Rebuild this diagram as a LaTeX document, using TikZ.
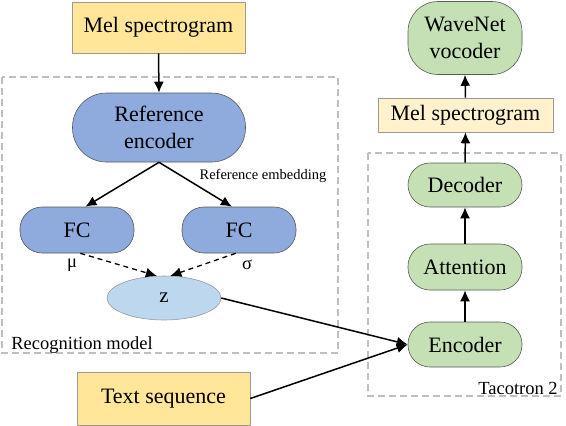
\documentclass[tikz,border=0pt]{standalone}
\usepackage{fontspec}
\setmainfont{LiberationSerif}[Extension=.ttf, UprightFont=*-Regular, BoldFont=*-Bold]
\usepackage{xcolor}
\usepackage{tikz}
\usetikzlibrary{arrows.meta,shapes.geometric}
\definecolor{melyellow}{RGB}{255, 230, 153}
\definecolor{melpale}{RGB}{255, 242, 204}
\definecolor{encblue}{RGB}{143, 170, 220}
\definecolor{zblue}{RGB}{189, 215, 238}
\definecolor{netgreen}{RGB}{197, 224, 180}
\definecolor{groupgray}{RGB}{191, 191, 191}

\begin{document}
\begin{tikzpicture}[x=1pt, y=-1pt,
             base/.style = {draw=black!65, line width=0.6pt, text=black, inner sep=0pt, align=center, font=\fontsize{22}{27.5}\selectfont},
           yellow/.style = {base, fill=melyellow, draw=black!40},
             pale/.style = {base, fill=melpale, draw=black!40},
             blue/.style = {base, fill=encblue, rounded corners=22pt},
              sky/.style = {base, ellipse, fill=zblue, draw=black!40, font=\fontsize{21}{24}\selectfont},
            green/.style = {base, fill=netgreen, rounded corners=22pt},
            group/.style = {draw=groupgray, line width=1.4pt, dash pattern=on 7pt off 4pt},
            label/.style = {inner sep=0pt, font=\fontsize{18.5}{20}\selectfont},
             flow/.style = {line width=1.5pt, -{Latex[length=11pt, width=10pt]}},
           sample/.style = {line width=1.3pt, dash pattern=on 5pt off 4pt, -{Latex[length=11pt, width=10pt]}}]
        \useasboundingbox (0,0) rectangle (566,426);
        \draw[group] (2,77) rectangle (338,353);
        \draw[group] (368,153) rectangle (561,396);

        \node[yellow, minimum width=173pt, minimum height=51pt] (melin) at (158.5,27.5) {Mel spectrogram};
        \node[blue, rounded corners=34pt, minimum width=173pt, minimum height=69pt] (refenc) at (159,127.5) {Reference\\encoder};
        \node[blue, minimum width=114pt, minimum height=46pt] (fcmu) at (77,230) {FC};
        \node[blue, minimum width=114pt, minimum height=46pt] (fcsigma) at (239,230) {FC};
        \node[sky, minimum width=114pt, minimum height=44pt] (z) at (164,298) {z};
        \node[yellow, minimum width=173pt, minimum height=53pt] (textseq) at (163.5,398.5) {Text sequence};

        \node[label, font=\fontsize{14.5}{16}\selectfont] (embedlabel) at (263,176) {Reference embedding};
        \node[label] (mulabel) at (72,265) {μ};
        \node[label] (sigmalabel) at (247,265) {σ};
        \node[label] (recoglabel) at (82,345) {Recognition model};
        \node[label] (tacolabel) at (518,388) {Tacotron 2};

        \node[green, rounded corners=30pt, minimum width=114pt, minimum height=73pt] (wavenet) at (465,38) {WaveNet\\vocoder};
        \node[pale, minimum width=175pt, minimum height=34pt] (melout) at (465.5,115) {Mel spectrogram};
        \node[green, minimum width=114pt, minimum height=44pt] (decoder) at (465,185) {Decoder};
        \node[green, minimum width=114pt, minimum height=46pt] (attention) at (465,267) {Attention};
        \node[green, minimum width=114pt, minimum height=45pt] (encoder) at (465,344.5) {Encoder};

        \draw[flow] (melin.south) -- (refenc.north);
        \draw[flow] (refenc.south) -- (fcmu.70);
        \draw[flow] (refenc.south) -- (fcsigma.107);
        \draw[sample] (fcmu.-82) -- (z.108);
        \draw[sample] (fcsigma.-98) -- (z.74);
        \draw[flow] (z.east) -- (encoder.west);
        \draw[flow] (textseq.east) -- (encoder.west);
        \draw[flow] (encoder.north) -- (attention.south);
        \draw[flow] (attention.north) -- (decoder.south);
        \draw[flow] (decoder.north) -- (melout.south);
        \draw[flow] (melout.north) -- (wavenet.south);
\end{tikzpicture}
\end{document}
